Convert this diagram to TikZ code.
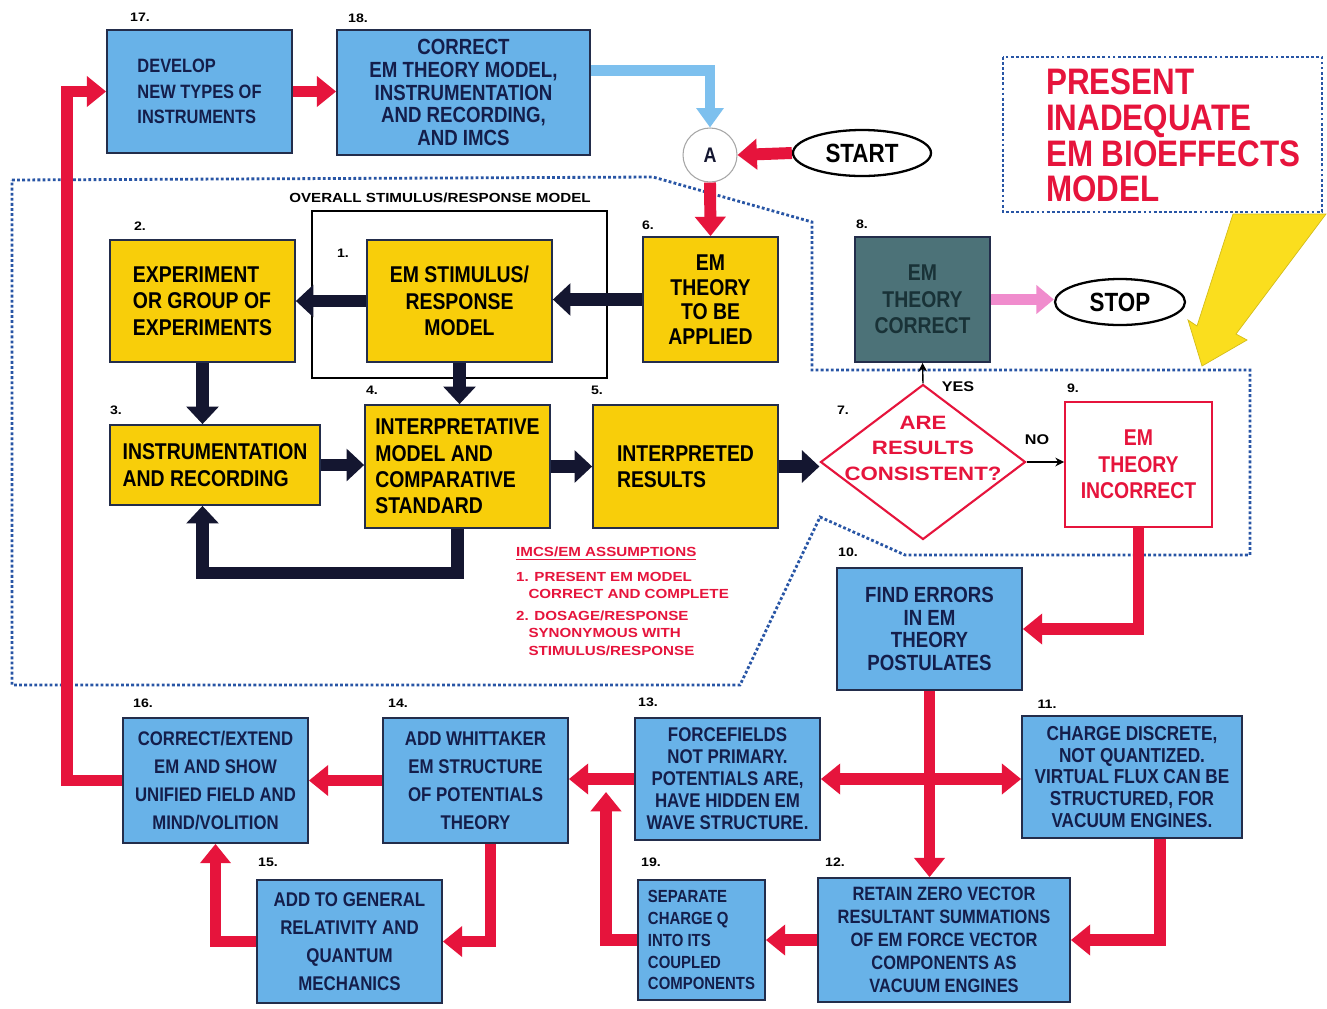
\documentclass[tikz,border=0pt]{standalone}
\usepackage{fontspec}
\setmainfont{Liberation Sans}[FakeStretch=0.85]
\newfontfamily\widesf{Liberation Sans}[FakeStretch=1.15]
\usetikzlibrary{shapes.geometric,arrows.meta,calc}
\definecolor{redc}{RGB}{230,20,60}
\definecolor{navy}{RGB}{20,22,48}
\definecolor{boxline}{RGB}{35,45,75}
\definecolor{boxtext}{RGB}{20,30,75}
\definecolor{boxblue}{RGB}{104,178,232}
\definecolor{boxyellow}{RGB}{248,206,10}
\definecolor{tealfill}{RGB}{76,114,120}
\definecolor{tealtext}{RGB}{25,50,55}
\definecolor{pinkc}{RGB}{240,140,205}
\definecolor{lblue}{RGB}{125,192,238}
\definecolor{dotblue}{RGB}{40,85,165}
\definecolor{boltyellow}{RGB}{250,222,30}
\newcommand\fsz[2]{\fontsize{#1}{#2}\selectfont\bfseries}
\tikzset{
  sz/.style 2 args={minimum width=#1*0.02cm, minimum height=#2*0.02cm},
  flowbox/.style={draw=boxline, line width=1pt, inner sep=2pt, align=center, text=boxtext},
  bluebox/.style={flowbox, fill=boxblue},
  yelbox/.style={flowbox, fill=boxyellow, text=black},
  term/.style={ellipse, draw=black, line width=1.3pt, fill=white, inner sep=0pt, font=\fsz{15}{15}},
  num/.style={font=\widesf\fsz{7}{8}},
  dotline/.style={draw=dotblue, line width=1.6pt, dash pattern=on 1.6pt off 1.3pt},
  blkarr/.style={draw=navy, line width=7pt, -{Triangle[width=18pt,length=10pt]}},
  redarr/.style={draw=redc, line width=6.8pt, -{Triangle[width=17pt,length=11pt]}},
  bluearr/.style={draw=lblue, line width=5.7pt, -{Triangle[width=15pt,length=11pt]}},
  pinkarr/.style={draw=pinkc, line width=6.5pt, -{Triangle[width=16pt,length=10pt]}},
  thinarr/.style={draw=black, line width=0.8pt, -{Stealth[length=5pt,width=5pt]}}
}
\begin{document}
\begin{tikzpicture}[x=0.02cm, y=-0.02cm]
    \fill[white] (0,0) rectangle (1327,1008);
    \useasboundingbox (0,0) rectangle (1327,1008);

    % dotted regions
    \draw[dotline] (12,180) -- (653,177) -- (812,222) -- (812,370) -- (1250,370)
        -- (1250,555) -- (905,555) -- (820,517) -- (740,685) -- (12,685) -- cycle;
    \draw[dotline] (1003,57) rectangle (1322,212);
    \fill[boltyellow, draw=boltyellow!85!black, line width=0.4pt] (1233,214) -- (1326,214) -- (1236,334)
        -- (1247,340) -- (1202,366) -- (1188,320) -- (1197,326) -- cycle;
    \node[align=left, anchor=west, text=redc, font=\fsz{21}{20.4}] (pres) at (1040,135.5)
        {PRESENT\\INADEQUATE\\EM BIOEFFECTS\\MODEL};

    \node[num, font=\widesf\fsz{7.5}{8}] (ovl) at (440,198) {OVERALL STIMULUS/RESPONSE MODEL};
    \node[draw=black, line width=0.8pt, sz={295}{167}] (frame) at (459.5,294.5) {};

    % top row
    \node[bluebox, sz={185}{123}, align=left, font=\fsz{11}{14.7}] (dev) at (199.5,91.5)
        {DEVELOP\\NEW TYPES OF\\INSTRUMENTS};
    \node[bluebox, sz={253}{125}, font=\fsz{12.5}{13}] (corr) at (463.5,92.5)
        {CORRECT\\EM THEORY MODEL,\\INSTRUMENTATION\\AND RECORDING,\\AND IMCS};
    \node[circle, draw=gray!70, line width=0.6pt, fill=white, sz={54}{54}, inner sep=0pt,
          text=navy, font=\fsz{12}{12}] (A) at (710,155) {A};
    \node[term, sz={138}{46}] (start) at (862,153) {START};

    % present model
    \node[yelbox, sz={135}{125}, font=\fsz{13}{14}] (emt) at (710.5,299.5)
        {EM\\THEORY\\TO BE\\APPLIED};
    \node[flowbox, fill=tealfill, text=tealtext, sz={135}{125}, font=\fsz{13}{15}] (emc) at (922.5,299.5)
        {EM\\THEORY\\CORRECT};
    \node[term, sz={130}{46}] (stop) at (1120,302) {STOP};
    \node[yelbox, sz={185}{122}, align=left, font=\fsz{13}{15}] (exp) at (202.5,301)
        {EXPERIMENT\\OR GROUP OF\\EXPERIMENTS};
    \node[yelbox, sz={185}{122}, font=\fsz{13}{15}] (stim) at (459.5,301)
        {EM STIMULUS/\\RESPONSE\\MODEL};
    \node[yelbox, sz={210}{80}, align=left, font=\fsz{13}{15}] (instr) at (215,465)
        {INSTRUMENTATION\\AND RECORDING};
    \node[yelbox, sz={185}{123}, align=left, font=\fsz{13}{15}] (interp) at (457.5,466.5)
        {INTERPRETATIVE\\MODEL AND\\COMPARATIVE\\STANDARD};
    \node[yelbox, sz={185}{123}, align=left, font=\fsz{13}{15}] (res) at (685.5,466.5)
        {INTERPRETED\\RESULTS};
    \node[diamond, draw=redc, line width=1.2pt, fill=white, sz={205}{155}, inner sep=0pt] (cons) at (923,462) {};
    \node[align=center, text=redc, font=\widesf\fsz{11}{14.5}] (consT) at (923,448)
        {ARE\\RESULTS\\CONSISTENT?};
    \node[flowbox, draw=redc, fill=white, text=redc, sz={147}{125}, font=\fsz{13}{15}] (incor) at (1138.5,464.5)
        {EM\\THEORY\\INCORRECT};
    \node[num, font=\widesf\fsz{8}{8}] (yes) at (958,387) {YES};
    \node[num, font=\widesf\fsz{8}{8}] (no) at (1037,440) {NO};

    \node[anchor=north west, align=left, text=redc, font=\widesf\fsz{7.5}{10}] (assum) at (510,541)
        {\underline{IMCS/EM ASSUMPTIONS}\\[4pt]
         1. PRESENT EM MODEL\\
         \hspace*{7pt}CORRECT AND COMPLETE\\[2pt]
         2. DOSAGE/RESPONSE\\
         \hspace*{7pt}SYNONYMOUS WITH\\
         \hspace*{7pt}STIMULUS/RESPONSE};

    % new model
    \node[bluebox, sz={185}{122}, font=\fsz{12.5}{13}] (find) at (929.5,629)
        {FIND ERRORS\\IN EM\\THEORY\\POSTULATES};
    \node[bluebox, sz={220}{122}, font=\fsz{11.5}{12.5}] (chg) at (1132,777)
        {CHARGE DISCRETE,\\NOT QUANTIZED.\\VIRTUAL FLUX CAN BE\\STRUCTURED, FOR\\VACUUM ENGINES.};
    \node[bluebox, sz={185}{122}, font=\fsz{11.3}{12.5}] (forc) at (727.5,779)
        {FORCEFIELDS\\NOT PRIMARY.\\POTENTIALS ARE,\\HAVE HIDDEN EM\\WAVE STRUCTURE.};
    \node[bluebox, sz={252}{124}, font=\fsz{11}{13}] (ret) at (944,940)
        {RETAIN ZERO VECTOR\\RESULTANT SUMMATIONS\\OF EM FORCE VECTOR\\COMPONENTS AS\\VACUUM ENGINES};
    \node[bluebox, sz={127}{120}, align=left, font=\fsz{10}{12.5}] (sep) at (701.5,940)
        {SEPARATE\\CHARGE Q\\INTO ITS\\COUPLED\\COMPONENTS};
    \node[bluebox, sz={185}{125}, font=\fsz{11.3}{16}] (whit) at (475.5,780.5)
        {ADD WHITTAKER\\EM STRUCTURE\\OF POTENTIALS\\THEORY};
    \node[bluebox, sz={185}{125}, font=\fsz{11.2}{16}] (cef) at (215.5,780.5)
        {CORRECT/EXTEND\\EM AND SHOW\\UNIFIED FIELD AND\\MIND/VOLITION};
    \node[bluebox, sz={185}{123}, font=\fsz{11.3}{16}] (gen) at (349.5,941.5)
        {ADD TO GENERAL\\RELATIVITY AND\\QUANTUM\\MECHANICS};

    % step numbers
    \node[num] (l17) at (140,17) {17.};
    \node[num] (l18) at (358,18) {18.};
    \node[num] (l6) at (648,225) {6.};
    \node[num] (l8) at (862,224) {8.};
    \node[num] (l2) at (140,226) {2.};
    \node[num] (l1) at (343,253) {1.};
    \node[num] (l3) at (116,410) {3.};
    \node[num] (l4) at (372,390) {4.};
    \node[num] (l5) at (597,390) {5.};
    \node[num] (l7) at (843,410) {7.};
    \node[num] (l9) at (1073,388) {9.};
    \node[num] (l10) at (848,552) {10.};
    \node[num] (l11) at (1047,704) {11.};
    \node[num] (l13) at (648,702) {13.};
    \node[num] (l12) at (835,862) {12.};
    \node[num] (l19) at (651,862) {19.};
    \node[num] (l14) at (398,703) {14.};
    \node[num] (l16) at (143,703) {16.};
    \node[num] (l15) at (268,862) {15.};

    % connectors
    \draw[bluearr] ($(corr.east)+(0,-22)$) -| (A.north);
    \draw[redarr] (start.west) -- (A.east);
    \draw[redarr] (A.south) -- (emt.north);
    \draw[blkarr] (emt.west) -- (emt.west -| stim.east);
    \draw[blkarr] (stim.west) -- (stim.west -| exp.east);
    \draw[blkarr] (exp.south) -- (exp.south |- instr.north);
    \draw[blkarr] (stim.south) -- (stim.south |- interp.north);
    \draw[blkarr] (instr.east) -- (instr.east -| interp.west);
    \draw[blkarr] (interp.east) -- (interp.east -| res.west);
    \draw[blkarr] (res.east) -- (res.east -| cons.west);
    \draw[blkarr] (interp.south) -- ++(0,44) -| (exp.south |- instr.south);
    \draw[thinarr] (cons.north) -- (emc.south);
    \draw[thinarr] (cons.east) -- (cons.east -| incor.west);
    \draw[pinkarr] (emc.east) -- (emc.east -| stop.west);

    \draw[redarr] (incor.south) |- (find.east);
    \draw[redarr] (find.south) -- (find.south |- ret.north);
    \draw[redarr, {Triangle[width=17pt,length=11pt]}-{Triangle[width=17pt,length=11pt]}]
        (forc.east) -- (forc.east -| chg.west);
    \draw[redarr] ($(chg.south)+(28,0)$) |- (ret.east);
    \draw[redarr] (ret.west) -- (ret.west -| sep.east);
    \coordinate (merge) at (606,792);
    \draw[redarr] (sep.west) -| (merge);
    \draw[redarr] (forc.west) -- (forc.west -| whit.east);
    \draw[redarr] (whit.west) -- (whit.west -| cef.east);
    \draw[redarr] ($(whit.south)+(15,0)$) |- (gen.east);
    \draw[redarr] (gen.west) -| (cef.south);
    \draw[redarr] (cef.west) -- ++(-55,0) |- (dev.west);
    \draw[redarr] (dev.east) -- (dev.east -| corr.west);
\end{tikzpicture}
\end{document}
